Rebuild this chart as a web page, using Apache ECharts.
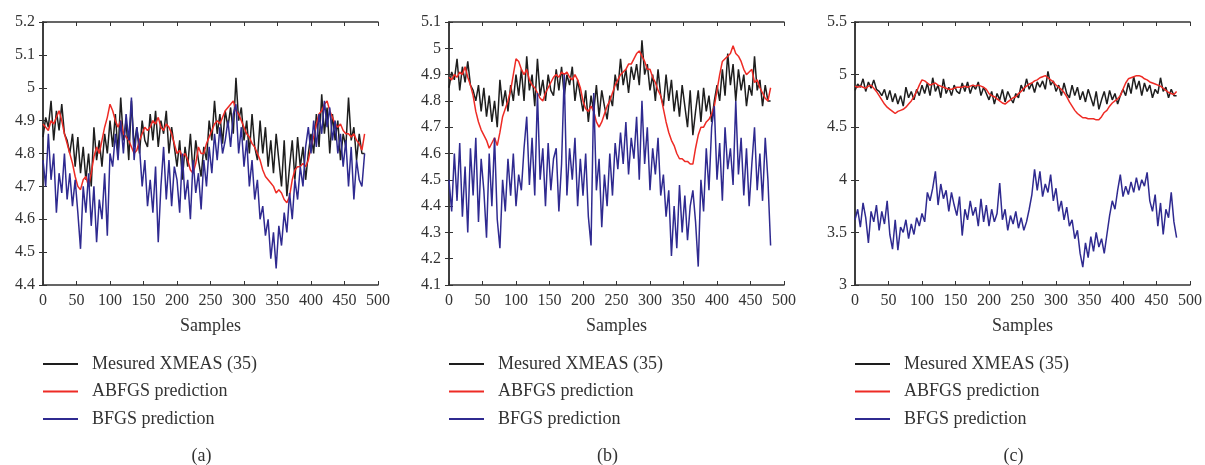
<!DOCTYPE html>
<html>
<head>
<meta charset="utf-8">
<script src="https://cdn.jsdelivr.net/npm/echarts@6/dist/echarts.min.js"></script>
<style>html,body{margin:0;padding:0;background:#fff;}#c{width:1205px;height:465px;}</style>
</head>
<body>
<div id="c"></div>
<script>
// Sample index step between stored points (0,4,8,...,480)
var sampleStep = 4;
var seriesNames = ['Mesured XMEAS (35)', 'ABFGS prediction', 'BFGS prediction'];
var panelLabels = ['(a)', '(b)', '(c)'];
var xAxisName = 'Samples';

// Measured XMEAS(35) — same in all panels
var measured = [
  4.85,4.91,4.88,4.96,4.84,4.93,4.87,4.95,4.86,4.84,
  4.80,4.86,4.76,4.85,4.74,4.82,4.72,4.80,4.70,4.88,
  4.78,4.84,4.76,4.86,4.80,4.90,4.82,4.92,4.80,4.97,
  4.84,4.90,4.78,4.96,4.82,4.88,4.80,4.90,4.84,4.82,
  4.92,4.84,4.93,4.82,4.90,4.86,4.93,4.80,4.88,4.82,
  4.76,4.84,4.72,4.82,4.76,4.86,4.74,4.84,4.78,4.73,
  4.82,4.78,4.90,4.84,4.96,4.86,4.92,4.83,4.93,4.88,
  4.94,4.86,5.03,4.90,4.94,4.84,4.90,4.80,4.92,4.82,
  4.78,4.90,4.80,4.88,4.76,4.84,4.74,4.86,4.78,4.70,
  4.84,4.67,4.76,4.84,4.72,4.85,4.76,4.82,4.72,4.80,
  4.86,4.80,4.92,4.82,4.98,4.86,4.94,4.80,4.92,4.84,
  4.90,4.78,4.86,4.82,4.97,4.84,4.88,4.78,4.86,4.80,
  4.80
];

// Panel (a)
var abfgsA = [
  4.89,4.88,4.87,4.90,4.89,4.91,4.93,4.90,4.86,4.83,
  4.80,4.77,4.73,4.70,4.69,4.72,4.73,4.70,4.74,4.79,
  4.82,4.80,4.84,4.88,4.91,4.95,4.93,4.90,4.88,4.90,
  4.86,4.85,4.84,4.82,4.80,4.81,4.84,4.86,4.88,4.87,
  4.88,4.90,4.89,4.91,4.88,4.87,4.89,4.88,4.86,4.83,
  4.80,4.81,4.79,4.80,4.78,4.75,4.74,4.77,4.82,4.80,
  4.80,4.83,4.85,4.87,4.89,4.90,4.89,4.91,4.93,4.94,
  4.95,4.96,4.93,4.92,4.90,4.88,4.86,4.85,4.83,4.82,
  4.80,4.78,4.75,4.73,4.72,4.71,4.70,4.68,4.69,4.68,
  4.66,4.65,4.67,4.72,4.75,4.76,4.76,4.77,4.76,4.78,
  4.82,4.85,4.89,4.92,4.93,4.95,4.96,4.93,4.91,4.89,
  4.88,4.89,4.87,4.86,4.86,4.85,4.86,4.84,4.83,4.81,
  4.86
];
var bfgsA = [
  4.78,4.70,4.86,4.72,4.80,4.62,4.74,4.68,4.80,4.66,
  4.74,4.64,4.72,4.62,4.51,4.70,4.62,4.74,4.58,4.70,
  4.53,4.66,4.60,4.74,4.55,4.80,4.76,4.86,4.78,4.90,
  4.80,4.92,4.84,4.97,4.78,4.88,4.82,4.70,4.78,4.64,
  4.72,4.62,4.76,4.53,4.70,4.82,4.66,4.78,4.64,4.76,
  4.72,4.62,4.80,4.66,4.72,4.60,4.78,4.68,4.74,4.63,
  4.78,4.70,4.82,4.74,4.86,4.78,4.88,4.80,4.84,4.90,
  4.82,4.92,4.95,4.80,4.88,4.76,4.84,4.70,4.78,4.66,
  4.72,4.60,4.64,4.55,4.60,4.48,4.56,4.45,4.58,4.52,
  4.62,4.56,4.68,4.60,4.72,4.66,4.76,4.70,4.82,4.88,
  4.80,4.90,4.82,4.92,4.86,4.96,4.88,4.94,4.84,4.90,
  4.80,4.86,4.76,4.84,4.70,4.82,4.66,4.78,4.72,4.70,
  4.80
];

// Panel (b)
var abfgsB = [
  4.89,4.88,4.90,4.89,4.91,4.90,4.93,4.89,4.86,4.82,
  4.76,4.72,4.69,4.67,4.65,4.62,4.64,4.66,4.63,4.68,
  4.74,4.77,4.80,4.84,4.90,4.96,4.95,4.92,4.90,4.92,
  4.88,4.86,4.85,4.83,4.81,4.80,4.83,4.85,4.87,4.89,
  4.90,4.89,4.91,4.90,4.91,4.89,4.88,4.90,4.88,4.85,
  4.80,4.77,4.76,4.78,4.76,4.72,4.70,4.72,4.75,4.78,
  4.80,4.83,4.86,4.88,4.90,4.91,4.92,4.94,4.94,4.96,
  4.98,4.99,4.97,4.95,4.92,4.92,4.89,4.87,4.84,4.82,
  4.77,4.72,4.68,4.65,4.63,4.60,4.58,4.58,4.57,4.57,
  4.56,4.56,4.62,4.67,4.70,4.70,4.72,4.73,4.75,4.78,
  4.84,4.90,4.95,4.96,4.97,4.98,5.01,4.98,4.97,4.95,
  4.92,4.90,4.91,4.92,4.87,4.88,4.85,4.83,4.81,4.80,
  4.85
];
var bfgsB = [
  4.50,4.38,4.60,4.42,4.64,4.36,4.55,4.30,4.62,4.44,
  4.66,4.34,4.58,4.46,4.28,4.60,4.40,4.66,4.35,4.24,
  4.50,4.38,4.58,4.44,4.60,4.40,4.52,4.46,4.62,4.74,
  4.48,4.66,4.44,4.83,4.50,4.62,4.40,4.64,4.46,4.58,
  4.62,4.38,4.56,4.90,4.44,4.62,4.50,4.66,4.40,4.58,
  4.44,4.60,4.36,4.25,4.83,4.46,4.58,4.32,4.52,4.40,
  4.60,4.44,4.64,4.54,4.68,4.56,4.72,4.52,4.66,4.58,
  4.74,4.50,4.80,4.56,4.70,4.46,4.62,4.52,4.66,4.44,
  4.52,4.36,4.46,4.21,4.40,4.24,4.48,4.30,4.44,4.27,
  4.40,4.46,4.34,4.17,4.50,4.38,4.62,4.46,4.70,4.78,
  4.50,4.64,4.42,4.70,4.54,4.62,4.48,4.80,4.52,4.66,
  4.44,4.62,4.40,4.56,4.70,4.46,4.60,4.42,4.66,4.50,
  4.25
];

// Panel (c)
var abfgsC = [
  4.89,4.88,4.89,4.88,4.87,4.89,4.90,4.87,4.84,4.80,
  4.76,4.72,4.69,4.67,4.65,4.63,4.65,4.66,4.67,4.69,
  4.72,4.75,4.79,4.84,4.90,4.95,4.94,4.92,4.90,4.91,
  4.92,4.90,4.89,4.88,4.87,4.86,4.86,4.87,4.88,4.88,
  4.88,4.89,4.88,4.89,4.90,4.89,4.90,4.89,4.88,4.86,
  4.82,4.80,4.79,4.77,4.75,4.73,4.72,4.74,4.76,4.78,
  4.79,4.82,4.84,4.87,4.89,4.91,4.92,4.94,4.95,4.97,
  4.98,4.99,4.97,4.95,4.93,4.90,4.88,4.86,4.83,4.79,
  4.74,4.70,4.66,4.63,4.61,4.59,4.59,4.58,4.58,4.58,
  4.57,4.57,4.60,4.64,4.66,4.70,4.73,4.75,4.77,4.80,
  4.86,4.92,4.96,4.97,4.98,4.99,4.99,4.98,4.96,4.95,
  4.93,4.92,4.91,4.90,4.89,4.87,4.85,4.83,4.82,4.81,
  4.84
];
var bfgsC = [
  3.62,3.72,3.55,3.78,3.64,3.40,3.70,3.60,3.76,3.52,
  3.70,3.58,3.80,3.48,3.34,3.62,3.33,3.55,3.50,3.62,
  3.44,3.58,3.48,3.64,3.56,3.68,3.60,3.88,3.80,3.92,
  4.08,3.76,3.96,3.82,3.90,3.70,3.88,3.76,3.66,3.84,
  3.47,3.72,3.62,3.80,3.66,3.74,3.56,3.82,3.60,3.76,
  3.56,3.72,3.60,3.68,3.97,3.62,3.72,3.52,3.66,3.58,
  3.70,3.54,3.64,3.52,3.60,3.72,3.86,4.10,3.90,4.08,
  3.84,3.96,3.88,4.05,3.80,3.92,3.70,3.80,3.62,3.74,
  3.56,3.62,3.44,3.52,3.30,3.17,3.40,3.26,3.46,3.32,
  3.50,3.36,3.44,3.30,3.48,3.66,3.80,3.72,3.90,4.05,
  3.84,3.94,3.86,3.98,3.88,4.02,3.90,4.00,3.94,4.07,
  3.80,3.70,3.86,3.56,3.78,3.48,3.72,3.64,3.88,3.60,
  3.45
];

// Axis ranges
var yMins = [4.4, 4.1, 3];
var yMaxs = [5.2, 5.1, 5.5];
var yIntervals = [0.1, 0.1, 0.5];

var panels = [
  [measured, abfgsA, bfgsA],
  [measured, abfgsB, bfgsB],
  [measured, abfgsC, bfgsC]
];

function toXY(arr) {
  return arr.map(function (v, i) { return [i * sampleStep, v]; });
}

var colors = ['#1e1e1e', '#ee2b25', '#2f2a90'];
var FONT = 'Liberation Serif';
var lefts = [43, 449, 855];
var plotW = 335;
var axisCol = '#333';

var option = {
  animation: false,
  backgroundColor: '#fff',
  grid: [], xAxis: [], yAxis: [], series: [], legend: [], title: []
};

lefts.forEach(function (L, p) {
  option.grid.push({ left: L, top: 22, width: plotW, height: 263, show: false });
  var xb = option.xAxis.length;
  option.xAxis.push({
    type: 'value', gridIndex: p, min: 0, max: 500, interval: 50, position: 'bottom',
    name: xAxisName, nameLocation: 'middle', nameGap: 32,
    nameTextStyle: { fontFamily: FONT, fontSize: 18, color: '#333' },
    axisLine: { show: true, lineStyle: { color: axisCol, width: 1.5 } },
    axisTick: { inside: true, length: 4, lineStyle: { color: axisCol } },
    axisLabel: { fontFamily: FONT, fontSize: 16, color: '#333', margin: 8 },
    splitLine: { show: false }
  });
  option.xAxis.push({
    type: 'value', gridIndex: p, min: 0, max: 500, interval: 50, position: 'top',
    axisLine: { show: true, lineStyle: { color: axisCol, width: 1.5 } },
    axisTick: { inside: true, length: 4, lineStyle: { color: axisCol } },
    axisLabel: { show: false }, splitLine: { show: false }
  });
  var yb = option.yAxis.length;
  option.yAxis.push({
    type: 'value', gridIndex: p, min: yMins[p], max: yMaxs[p], interval: yIntervals[p], position: 'left',
    axisLine: { show: true, lineStyle: { color: axisCol, width: 1.5 } },
    axisTick: { inside: true, length: 4, lineStyle: { color: axisCol } },
    axisLabel: { fontFamily: FONT, fontSize: 16, color: '#333', margin: 8 },
    splitLine: { show: false }
  });
  option.yAxis.push({
    type: 'value', gridIndex: p, min: yMins[p], max: yMaxs[p], interval: yIntervals[p], position: 'right',
    axisLine: { show: true, lineStyle: { color: axisCol, width: 1.5 } },
    axisTick: { inside: true, length: 4, lineStyle: { color: axisCol } },
    axisLabel: { show: false }, splitLine: { show: false }
  });
  panels[p].forEach(function (arr, k) {
    option.series.push({
      type: 'line', name: seriesNames[k], xAxisIndex: xb, yAxisIndex: yb,
      data: toXY(arr), symbol: 'none', showSymbol: false,
      lineStyle: { color: colors[k], width: 1.5 }, itemStyle: { color: colors[k] },
      z: 2 + k
    });
  });
  option.legend.push({
    orient: 'vertical', left: L, top: 355, padding: 0, itemWidth: 35, itemHeight: 2, itemGap: 9.5,
    icon: 'rect',
    data: seriesNames.slice(),
    selectedMode: false,
    textStyle: { fontFamily: FONT, fontSize: 18, color: '#333', padding: [0, 0, 0, 9] }
  });
  option.title.push({
    text: panelLabels[p], left: L + plotW / 2 - 14, top: 442, textAlign: 'center',
    textStyle: { fontFamily: FONT, fontSize: 18, fontWeight: 'normal', color: '#333' }
  });
});

var chart = echarts.init(document.getElementById('c'), null, { renderer: 'canvas' });
chart.setOption(option);
</script>
</body>
</html>
